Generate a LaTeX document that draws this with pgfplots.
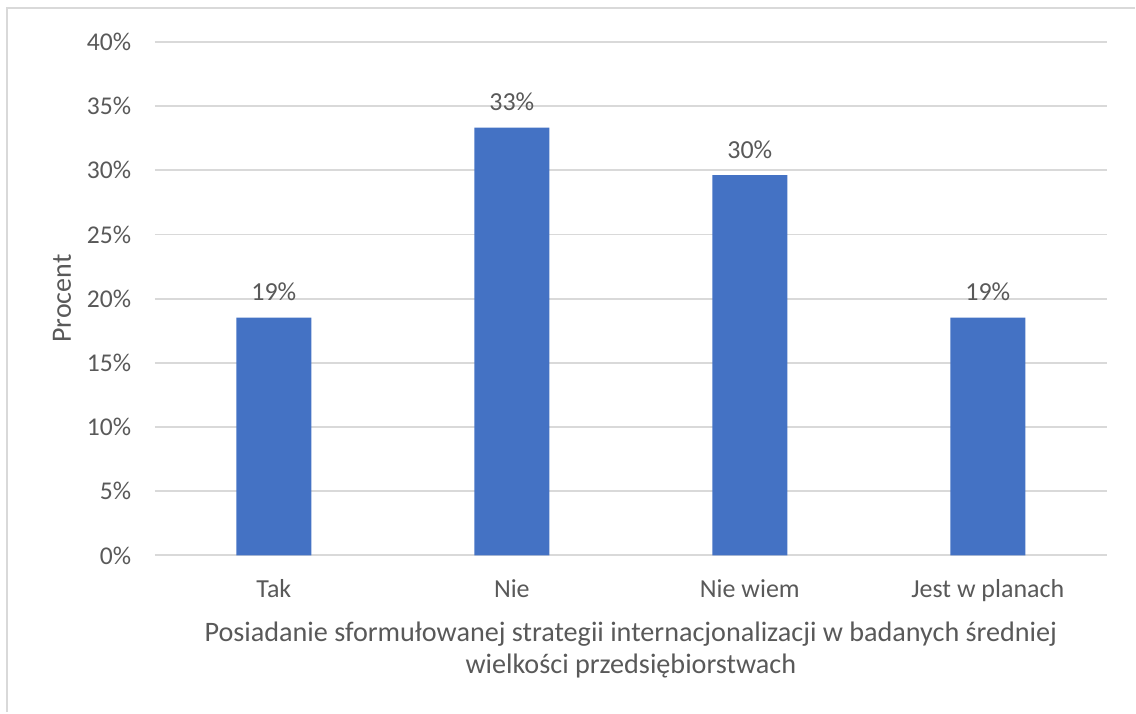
\documentclass[border=0pt]{standalone}
\usepackage{pgfplots}
\pgfplotsset{compat=1.18}
\usepackage{fontspec}
\setmainfont{Carlito}
\definecolor{txt}{HTML}{595959}
\definecolor{gridc}{HTML}{D9D9D9}
\definecolor{barc}{HTML}{4472C4}
\begin{document}
\begin{tikzpicture}
\begin{axis}[
  scale only axis,
  width=476.5pt, height=257pt,
  xmin=-0.5, xmax=3.5,
  ymin=0, ymax=40,
  ytick={0,5,...,40},
  yticklabel={\pgfmathprintnumber{\tick}\%},
  /pgf/number format/assume math mode=true,
  xtick={0,1,2,3},
  xticklabels={Tak,Nie,Nie wiem,Jest w planach},
  major tick length=0pt,
  axis line style={draw=none},
  ymajorgrids,
  grid style={gridc, line width=0.9pt},
  yticklabel style={font=\fontsize{12.8}{14}\selectfont, text=txt, anchor=east, xshift=-8.3pt},
  xticklabel style={font=\fontsize{13}{15}\selectfont, text=txt, anchor=base, yshift=-21pt},
  ylabel={Procent},
  ylabel style={at={(axis description cs:-0.0976,0.5)}, anchor=center, font=\fontsize{14}{16}\selectfont, text=txt},
  xlabel={Posiadanie sformułowanej strategii internacjonalizacji w badanych średniej\\wielkości przedsiębiorstwach},
  xlabel style={at={(axis description cs:0.5,0)}, anchor=center, yshift=-47.5pt, font=\fontsize{14.1}{16.2}\selectfont, text=txt, align=center},
  ybar, bar width=37.5pt,
  nodes near coords={\pgfmathprintnumber[fixed,precision=0]{\pgfplotspointmeta}\%},
  nodes near coords style={font=\fontsize{13}{15}\selectfont, text=txt, /pgf/number format/assume math mode=true, anchor=base, yshift=8.4pt},
  clip=false,
]
\draw[gridc, line width=0.9pt] (axis cs:-0.5,0) -- (axis cs:3.5,0);
\addplot[fill=barc, draw=none] coordinates {(0,18.52) (1,33.33) (2,29.63) (3,18.52)};
\end{axis}
\draw[gridc, line width=1.2pt] ([xshift=-74pt,yshift=-78.5pt]current axis.south west) |- ([xshift=-77.5pt+568pt,yshift=17pt]current axis.north west);
\path[use as bounding box] ([xshift=-77.5pt,yshift=-78.5pt]current axis.south west) rectangle ([xshift=-77.5pt+568pt,yshift=21pt]current axis.north west);
\end{tikzpicture}
\end{document}
